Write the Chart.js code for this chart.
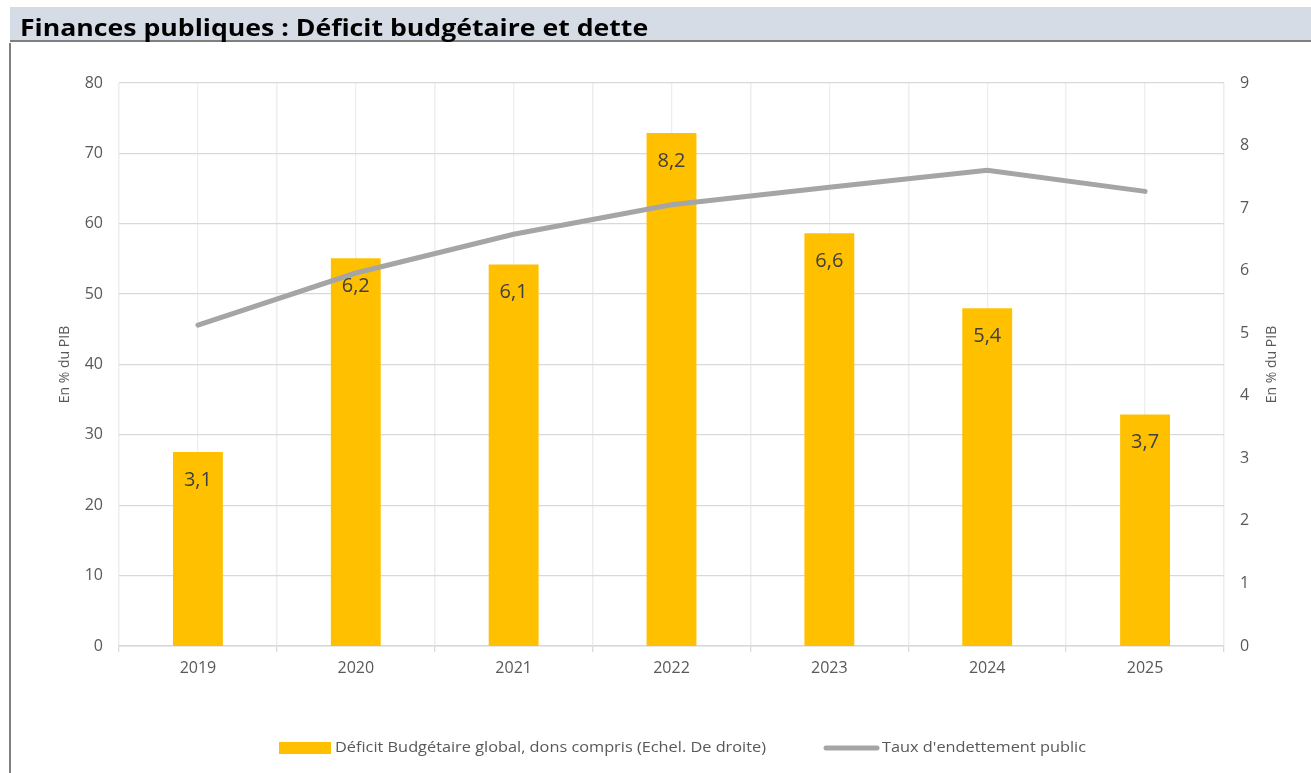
<!DOCTYPE html>
<html>
<head>
<meta charset="utf-8">
<script src="https://cdn.jsdelivr.net/npm/chart.js@4"></script>
<style>
  html, body { margin: 0; padding: 0; background: #fff; }
  body { width: 1311px; height: 773px; position: relative; overflow: hidden; }
  #titlebar {
    position: absolute; left: 10px; top: 7px; width: 1301px; height: 35px;
    background: #d6dce5; border-bottom: 2px solid #7f7f7f;
    font-family: 'Open Sans', sans-serif; font-weight: bold; font-size: 24px;
    color: #000; line-height: 40px; padding-left: 10px; box-sizing: border-box;
    z-index: 2; white-space: nowrap;
  }
  #titlebar span { display: inline-block; transform: scaleX(1.11); transform-origin: left center; }
  #leftline { position: absolute; left: 9px; top: 43px; width: 2px; height: 730px; background: #7f7f7f; z-index: 2; }
  #c { position: absolute; left: 0; top: 0; }
</style>
</head>
<body>
<div id="titlebar"><span>Finances publiques : Déficit budgétaire et dette</span></div>
<div id="leftline"></div>
<canvas id="c" width="1311" height="773"></canvas>
<script>
const years = ['2019', '2020', '2021', '2022', '2023', '2024', '2025'];
const deficit = [3.1, 6.2, 6.1, 8.2, 6.6, 5.4, 3.7];
const dette = [45.6, 53.0, 58.5, 62.7, 65.2, 67.6, 64.6];
const deficitLabel = 'Déficit Budgétaire global, dons compris (Echel. De droite)';
const detteLabel = "Taux d'endettement public";
const axisTitle = 'En % du PIB';

Chart.defaults.font.family = "'Open Sans', sans-serif";
Chart.defaults.color = '#595959';

// texte étiré horizontalement pour coller à la largeur voulue
function fillTextW(ctx, txt, x, y, w) {
  const m = ctx.measureText(txt).width;
  ctx.save();
  ctx.translate(x, y);
  ctx.scale(w / m, 1);
  ctx.fillText(txt, 0, 0);
  ctx.restore();
}

// valeurs dans les barres
const barLabels = {
  id: 'barLabels',
  afterDatasetsDraw(chart) {
    const ctx = chart.ctx;
    const meta = chart.getDatasetMeta(1);
    ctx.save();
    ctx.font = "20px 'Open Sans', sans-serif";
    ctx.fillStyle = '#404040';
    ctx.textAlign = 'center';
    ctx.textBaseline = 'middle';
    meta.data.forEach((bar, i) => {
      ctx.fillText(String(deficit[i]).replace('.', ','), bar.x, bar.y + 28);
    });
    ctx.restore();
  }
};

// titres d'axes (les deux lus de bas en haut) + légende
const extras = {
  id: 'extras',
  afterDraw(chart) {
    const ctx = chart.ctx;
    const area = chart.chartArea;
    const midY = (area.top + area.bottom) / 2;
    ctx.save();
    ctx.font = "14px 'Open Sans', sans-serif";
    ctx.fillStyle = '#595959';
    ctx.textAlign = 'center';
    ctx.textBaseline = 'middle';
    [65, 1272].forEach(x => {
      ctx.save();
      ctx.translate(x, midY);
      ctx.rotate(-Math.PI / 2);
      ctx.fillText(axisTitle, 0, 0);
      ctx.restore();
    });

    // légende
    const ly = 748;
    ctx.font = "15px 'Open Sans', sans-serif";
    ctx.textAlign = 'left';
    ctx.fillStyle = '#ffc000';
    ctx.fillRect(279, ly - 6, 52, 12);
    ctx.fillStyle = '#595959';
    fillTextW(ctx, deficitLabel, 335, ly, 431);
    ctx.strokeStyle = '#a5a5a5';
    ctx.lineWidth = 5;
    ctx.lineCap = 'round';
    ctx.beginPath();
    ctx.moveTo(826, ly);
    ctx.lineTo(877, ly);
    ctx.stroke();
    fillTextW(ctx, detteLabel, 882, ly, 204);
    ctx.restore();
  }
};

const data = {
  labels: years,
  datasets: [{
    type: 'line',
    label: detteLabel,
    data: dette,
    yAxisID: 'y',
    borderColor: '#a5a5a5',
    borderWidth: 5,
    borderCapStyle: 'round',
    pointRadius: 0,
    tension: 0,
    order: 0
  }, {
    type: 'bar',
    label: deficitLabel,
    data: deficit,
    yAxisID: 'y1',
    backgroundColor: '#ffc000',
    categoryPercentage: 1,
    barPercentage: 0.316,
    order: 1
  }]
};

const config = {
  data: data,
  options: {
    responsive: false,
    animation: false,
    layout: { padding: { top: 83, left: 0, right: 0, bottom: 0 } },
    plugins: {
      legend: { display: false },
      tooltip: { enabled: false }
    },
    scales: {
      x: {
        type: 'category',
        position: 'bottom',
        grid: { offset: true, color: '#eeeeee', tickColor: '#d9d9d9', tickLength: 6, lineWidth: 1.3 },
        border: { color: '#d9d9d9', width: 1.5 },
        ticks: { font: { size: 16 }, padding: 7, color: '#595959' },
        afterFit(s) { s.height = 127; }
      },
      x2: {
        type: 'linear',
        position: 'top',
        min: -0.5,
        max: 6.5,
        ticks: { display: false, stepSize: 0.5 },
        grid: { color: '#eeeeee', drawTicks: false, lineWidth: 1.3 },
        border: { display: false },
        afterFit(s) { s.height = 0; }
      },
      y: {
        position: 'left',
        min: 0,
        max: 80,
        ticks: { stepSize: 10, font: { size: 16 }, padding: 16, color: '#595959' },
        grid: { color: '#d9d9d9', drawTicks: false, lineWidth: 1.3 },
        border: { display: false },
        afterFit(s) { s.width = 119; }
      },
      y1: {
        position: 'right',
        min: 0,
        max: 9,
        ticks: { stepSize: 1, font: { size: 16 }, padding: 16, color: '#595959' },
        grid: { display: false, drawTicks: false },
        border: { display: false },
        afterFit(s) { s.width = 87; }
      }
    }
  },
  plugins: [barLabels, extras]
};

new Chart(document.getElementById('c').getContext('2d'), config);
</script>
</body>
</html>
